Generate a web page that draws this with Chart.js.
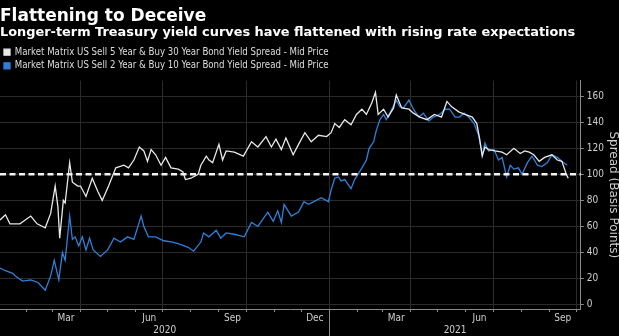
<!DOCTYPE html>
<html>
<head>
<meta charset="utf-8">
<script src="https://cdn.jsdelivr.net/npm/chart.js@4.4.1/dist/chart.umd.min.js"></script>
<style>
  html, body { margin: 0; padding: 0; background: #000; }
</style>
</head>
<body>
<canvas id="myChart" width="619" height="336"></canvas>
<script>
// x values are days counted from 1 Jan 2020
const whiteDays = [
  2, 8, 13, 24, 36, 43, 52, 58, 63, 66,
  68, 72, 74, 79, 82, 88, 91, 97, 104, 110,
  115, 122, 130, 139, 144, 150, 156, 161, 165, 169,
  174, 180, 185, 191, 199, 204, 207, 213, 221, 224,
  230, 233, 237, 244, 248, 252, 261, 271, 280, 287,
  296, 302, 307, 313, 318, 326, 332, 339, 346, 354,
  363, 368, 372, 377, 383, 390, 396, 402, 407, 413,
  417, 420, 426, 431, 437, 440, 446, 454, 459, 466,
  474, 482, 490, 496, 501, 509, 516, 524, 529, 532,
  535, 538, 542, 549, 557, 562, 570, 577, 582, 587,
  592, 598, 604, 612, 618, 623, 628, 630,
];
const whiteValues = [
  65, 69, 62, 62, 68, 62, 59, 70, 91, 75,
  51, 80, 78, 109, 94, 91, 91, 83, 97, 87,
  80, 91, 105, 107, 105, 111, 121, 118, 110, 119,
  115, 107, 113, 105, 104, 102, 96, 97, 100, 107,
  114, 111, 109, 123, 111, 118, 117, 114, 125, 121,
  129, 121, 127, 119, 128, 115, 123, 132, 125, 130,
  129, 132, 139, 136, 142, 138, 146, 150, 146, 155,
  163, 146, 150, 144, 151, 161, 151, 150, 147, 144,
  142, 146, 144, 156, 152, 148, 146, 144, 139, 128,
  114, 121, 119, 118, 117, 115, 120, 116, 118, 117,
  115, 110, 113, 115, 111, 110, 100, 97,
];

const blueDays = [
  2, 8, 16, 19, 27, 36, 44, 52, 58, 62,
  67, 71, 74, 79, 82, 85, 89, 93, 97, 101,
  105, 113, 121, 128, 135, 143, 150, 158, 161, 166,
  174, 183, 193, 202, 210, 216, 224, 227, 233, 241,
  246, 252, 261, 272, 280, 287, 298, 304, 309, 313,
  316, 324, 332, 335, 338, 343, 349, 357, 365, 368,
  372, 376, 379, 383, 390, 394, 402, 407, 410, 415,
  418, 422, 426, 429, 435, 440, 444, 448, 454, 459,
  465, 470, 476, 481, 488, 494, 499, 505, 510, 515,
  520, 526, 531, 535, 538, 542, 548, 553, 557, 562,
  566, 570, 575, 579, 585, 590, 596, 601, 607, 612,
  618, 623, 629,
];
const blueValues = [
  28, 26, 24, 22, 18, 19, 17, 11, 22, 34,
  19, 40, 34, 68, 50, 52, 45, 52, 42, 51,
  42, 37, 42, 51, 48, 52, 50, 68, 60, 52,
  52, 49, 48, 46, 44, 41, 48, 55, 52, 57,
  51, 55, 54, 52, 63, 60, 71, 64, 72, 63,
  77, 68, 71, 75, 79, 77, 79, 82, 79, 88,
  97, 98, 95, 96, 89, 96, 105, 111, 120, 125,
  134, 142, 146, 142, 150, 157, 152, 151, 157, 150,
  144, 147, 141, 144, 146, 150, 150, 144, 144, 147,
  144, 139, 130, 115, 124, 118, 119, 111, 113, 98,
  107, 104, 105, 100, 109, 114, 107, 106, 109, 115,
  113, 110, 107,
];

const seriesNames = [
  "Market Matrix US Sell 5 Year & Buy 30 Year Bond Yield Spread - Mid Price",
  "Market Matrix US Sell 2 Year & Buy 10 Year Bond Yield Spread - Mid Price",
];
const monthLabels = ["Mar", "Jun", "Sep", "Dec", "Mar", "Jun", "Sep"];
const monthLabelDates = ["2020-03-16", "2020-06-16", "2020-09-16", "2020-12-16", "2021-03-16", "2021-06-16", "2021-09-16"];
const yearLabels = ["2020", "2021"];
const yTickValues = [0, 20, 40, 60, 80, 100, 120, 140, 160];
const threshold = 100;

const DAY0 = Date.UTC(2020, 0, 1);
const dayOf = (iso) => (Date.parse(iso) - DAY0) / 86400000;

const xMin = 2;
const xMax = 644;
const yMin = -3.4;
const yMax = 172;

const GRID = "#2b2b2b";
const AXIS = "#8a8a8a";
const TEXT = "#cfcfcf";

// month starts -> small tick marks, quarter starts -> grid lines
const monthStarts = [];
for (let y = 2020; y <= 2021; y++) {
  for (let m = 0; m < 12; m++) {
    const d = (Date.UTC(y, m, 1) - DAY0) / 86400000;
    if (d >= xMin && d <= xMax) monthStarts.push({ day: d, quarter: m % 3 === 0 });
  }
}
const labelDays = monthLabelDates.map(dayOf);
const yearBreak = dayOf("2021-01-01");
const yearCenters = [(xMin + yearBreak) / 2, (yearBreak + xMax) / 2];

const quarterSet = new Set(monthStarts.filter((m) => m.quarter).map((m) => m.day));
const monthSet = new Set(monthStarts.map((m) => m.day));

const yearDivider = {
  id: "yearDivider",
  afterDraw(chart) {
    const x = chart.scales.x;
    const px = Math.round(x.getPixelForValue(yearBreak)) + 0.5;
    const ctx = chart.ctx;
    ctx.save();
    ctx.strokeStyle = AXIS;
    ctx.lineWidth = 1;
    ctx.beginPath();
    ctx.moveTo(px, x.top);
    ctx.lineTo(px, chart.height);
    ctx.stroke();
    ctx.restore();
  },
};

function createChart() {
  const ctx = document.getElementById("myChart").getContext("2d");
  Chart.defaults.font.family = "DejaVu Sans";
  Chart.defaults.color = TEXT;

  new Chart(ctx, {
    type: "line",
    data: {
      datasets: [
        {
          label: seriesNames[0],
          data: whiteDays.map((d, i) => ({ x: d, y: whiteValues[i] })),
          borderColor: "#e8e8e8",
          backgroundColor: "#e8e8e8",
          borderWidth: 1.3,
          pointRadius: 0,
          order: 1,
        },
        {
          label: seriesNames[1],
          data: blueDays.map((d, i) => ({ x: d, y: blueValues[i] })),
          borderColor: "#2f80d8",
          backgroundColor: "#2f80d8",
          borderWidth: 1.3,
          pointRadius: 0,
          order: 2,
        },
        {
          label: "threshold",
          data: [{ x: xMin, y: threshold }, { x: xMax, y: threshold }],
          borderColor: "#f2f2f2",
          borderWidth: 2.5,
          borderDash: [6, 3.5],
          pointRadius: 0,
          order: 0,
        },
      ],
    },
    options: {
      responsive: false,
      animation: false,
      layout: { padding: { left: 0, right: 0, top: 0, bottom: 0 } },
      plugins: {
        title: {
          display: true,
          text: "Flattening to Deceive",
          align: "start",
          color: "#ffffff",
          font: { size: 17, weight: "bold" },
          padding: { top: 6, bottom: 0 },
        },
        subtitle: {
          display: true,
          text: "Longer-term Treasury yield curves have flattened with rising rate expectations",
          align: "start",
          color: "#ffffff",
          font: { size: 12.9, weight: "bold" },
          padding: { top: -1, bottom: 2.5 },
        },
        legend: {
          position: "top",
          align: "start",
          labels: {
            boxWidth: 6,
            boxHeight: 6,
            padding: 4,
            color: "#dddddd",
            font: { family: "DejaVu Sans Condensed", size: 9.6 },
            filter: (item) => item.datasetIndex < 2,
          },
        },
        tooltip: { enabled: false },
      },
      scales: {
        x: {
          type: "linear",
          position: "bottom",
          min: xMin,
          max: xMax,
          afterBuildTicks: (scale) => {
            scale.ticks = monthStarts.map((m) => ({ value: m.day }))
              .concat(labelDays.map((d) => ({ value: d })));
          },
          grid: {
            color: (c) => (c.tick && quarterSet.has(c.tick.value) ? GRID : "transparent"),
            tickColor: (c) => (c.tick && monthSet.has(c.tick.value) ? AXIS : "transparent"),
            tickLength: 3,
          },
          border: { color: AXIS },
          ticks: {
            autoSkip: false,
            maxRotation: 0,
            minRotation: 0,
            padding: 0,
            font: { family: "DejaVu Sans Condensed", size: 10 },
            callback: (v) => {
              const i = labelDays.indexOf(v);
              return i >= 0 ? monthLabels[i] : "";
            },
          },
        },
        x2: {
          type: "linear",
          position: "bottom",
          min: xMin,
          max: xMax,
          afterBuildTicks: (scale) => {
            scale.ticks = yearCenters.map((d) => ({ value: d }));
          },
          grid: { display: false, drawTicks: false },
          border: { display: false },
          ticks: {
            autoSkip: false,
            maxRotation: 0,
            padding: 0,
            font: { family: "DejaVu Sans Condensed", size: 10 },
            callback: (v) => yearLabels[yearCenters.indexOf(v)],
          },
        },
        y: {
          position: "right",
          min: yMin,
          max: yMax,
          afterBuildTicks: (scale) => {
            const t = [];
            for (let v = 0; v <= 160; v += 10) t.push({ value: v });
            scale.ticks = t;
          },
          grid: {
            color: (c) => (c.tick && yTickValues.includes(c.tick.value) ? GRID : "transparent"),
            tickColor: AXIS,
            tickLength: 3,
          },
          border: { color: AXIS },
          ticks: {
            padding: 3,
            font: { family: "DejaVu Sans Condensed", size: 10 },
            callback: (v) => (yTickValues.includes(v) ? String(v) : ""),
          },
          title: {
            display: true,
            text: "Spread (Basis Points)",
            color: TEXT,
            font: { size: 12, lineHeight: 1 },
            padding: { top: 0, bottom: 0 },
          },
        },
      },
    },
    plugins: [yearDivider],
  });
}

createChart();
</script>
</body>
</html>
